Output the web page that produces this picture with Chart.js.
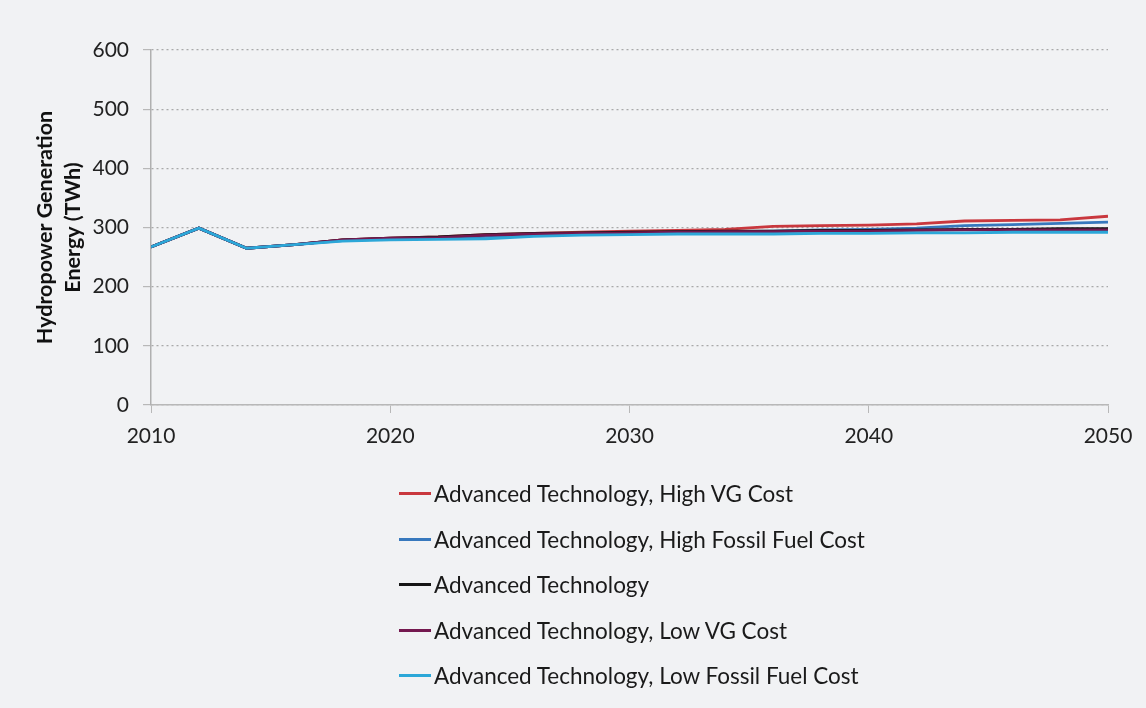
<!DOCTYPE html>
<html>
<head>
<meta charset="utf-8">
<script src="https://cdn.jsdelivr.net/npm/chart.js@4.4.1/dist/chart.umd.min.js"></script>
<style>
  html, body { margin: 0; padding: 0; background: #f1f2f4; }
  #wrap { position: relative; width: 1146px; height: 708px; background: #f1f2f4; }
  #c { position: absolute; left: 0; top: 0; }
  #legend { position: absolute; left: 399px; top: 471px; font-family: Lato, "Open Sans", sans-serif; font-size: 22.5px; color: #1a1a1a; }
  #legend .item { display: flex; align-items: center; height: 45.5px; }
  #legend .swatch { width: 32px; height: 3px; margin-right: 3px; }
</style>
</head>
<body>
<div id="wrap">
  <canvas id="c" width="1146" height="708"></canvas>
  <div id="legend"></div>
</div>
<script>
const years = [2010, 2012, 2014, 2016, 2018, 2020, 2022, 2024, 2026, 2028, 2030, 2032, 2034, 2036, 2038, 2040, 2042, 2044, 2046, 2048, 2050];
const seriesNames = [
  "Advanced Technology, High VG Cost",
  "Advanced Technology, High Fossil Fuel Cost",
  "Advanced Technology",
  "Advanced Technology, Low VG Cost",
  "Advanced Technology, Low Fossil Fuel Cost"
];
const highVG      = [267, 299, 265, 271, 279, 282, 284, 288, 290, 292, 294, 295, 297, 302, 303, 304, 306, 311, 312, 313, 319];
const highFossil  = [267, 299, 265, 271, 278, 281, 282, 285, 288, 290, 291, 292, 293, 294, 296, 297, 299, 303, 305, 307, 309];
const advTech     = [267, 299, 265, 271, 279, 282, 284, 288, 290, 291, 292, 293, 294, 294, 295, 295, 296, 297, 297, 298, 298];
const lowVG       = [267, 299, 265, 271, 279, 282, 283, 287, 289, 290, 291, 292, 293, 293, 294, 294, 295, 296, 296, 296, 296];
const lowFossil   = [267, 299, 265, 271, 277, 279, 280, 281, 285, 287, 288, 289, 289, 289, 290, 290, 291, 291, 292, 292, 292];
const xTicks = [2010, 2020, 2030, 2040, 2050];
const yTicks = [0, 100, 200, 300, 400, 500, 600];
const yTitle = ["Hydropower Generation", "Energy (TWh)"];

const colors = ["#c9383e", "#3778bd", "#151515", "#74184f", "#2ca7d8"];
const seriesValues = [highVG, highFossil, advTech, lowVG, lowFossil];
// draw order: low fossil on top
const drawOrder = [5, 4, 3, 2, 1];

const datasets = seriesNames.map((name, i) => ({
  label: name,
  data: years.map((y, j) => ({ x: y, y: seriesValues[i][j] })),
  borderColor: colors[i],
  backgroundColor: colors[i],
  borderWidth: 2.8,
  pointRadius: 0,
  tension: 0,
  order: drawOrder[i]
}));

const FONT = "Lato, 'Open Sans', sans-serif";

new Chart(document.getElementById('c'), {
  type: 'line',
  data: { datasets },
  options: {
    responsive: false,
    animation: false,
    devicePixelRatio: 1,
    layout: { padding: { left: 32, right: 38, top: 50, bottom: 260 } },
    plugins: { legend: { display: false }, tooltip: { enabled: false } },
    scales: {
      x: {
        type: 'linear',
        min: 2010, max: 2050,
        afterBuildTicks: (s) => { s.ticks = xTicks.map(v => ({ value: v })); },
        ticks: { color: '#222', font: { family: FONT, size: 21 }, padding: 11, callback: v => String(v), maxRotation: 0 },
        grid: { drawOnChartArea: false, drawTicks: true, tickLength: 8, color: '#b8b8b8' },
        border: { display: true, color: '#b8b8b8', width: 1.5 },
        afterFit: (s) => { s.height = 43; }
      },
      y: {
        min: 0, max: 600,
        afterBuildTicks: (s) => { s.ticks = yTicks.map(v => ({ value: v })); },
        ticks: { color: '#222', font: { family: FONT, size: 21 }, padding: 14 },
        grid: { color: '#a9a9a9', tickLength: 8, tickBorderDash: [], tickColor: '#b8b8b8', lineWidth: 1.2 },
        border: { display: true, color: '#b0b0b0', width: 1.5, dash: [2, 3] },
        title: { display: true, text: yTitle, color: '#111', font: { family: FONT, size: 21.5, weight: 'bold', lineHeight: 1.26 }, padding: { top: 0, bottom: 4 } },
        afterFit: (s) => { s.width = 119; }
      }
    }
  }
});

const leg = document.getElementById('legend');
seriesNames.forEach((name, i) => {
  const it = document.createElement('div');
  it.className = 'item';
  const sw = document.createElement('span');
  sw.className = 'swatch';
  sw.style.background = colors[i];
  const tx = document.createElement('span');
  tx.textContent = name;
  it.appendChild(sw); it.appendChild(tx);
  leg.appendChild(it);
});
</script>
</body>
</html>
